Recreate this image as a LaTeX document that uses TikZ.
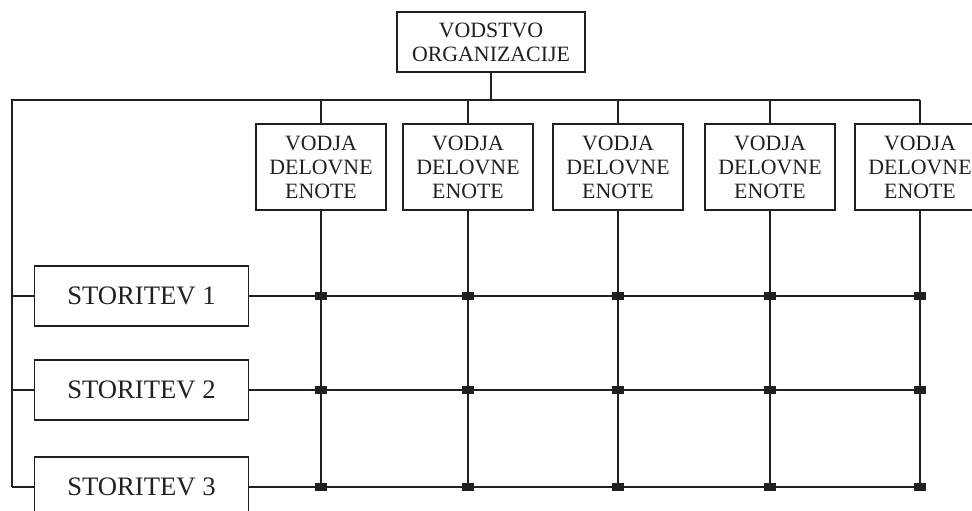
\documentclass[tikz,border=0pt]{standalone}
\usepackage{fontspec}
\setmainfont{Liberation Serif}
\usetikzlibrary{positioning}
\definecolor{lnblack}{HTML}{231F20}

\begin{document}
\begin{tikzpicture}[x=0.75pt,y=-0.75pt,line width=0.9pt,draw=lnblack,
  box/.style={rectangle,draw=lnblack,line width=0.9pt,align=center,inner sep=0pt,text=lnblack},
  lead/.style={box,font=\fontsize{16.4}{18}\selectfont,minimum width=141pt,minimum height=45pt},
  unit/.style={box,font=\fontsize{16.4}{18}\selectfont,minimum width=97.5pt,minimum height=64.5pt},
  task/.style={box,font=\fontsize{20}{22}\selectfont,minimum width=160pt,minimum height=45pt},
  sq/.style={rectangle,fill=lnblack,draw=none,inner sep=0pt,minimum width=9pt,minimum height=6pt}]
  \clip (0,0) rectangle (972,511);
  % vodstvo
  \node[lead] (org) at (491,42) {VODSTVO\\ORGANIZACIJE};
  \coordinate (busL) at (12,100);
  \coordinate (busR) at (920,100);
  % vodje delovnih enot
  \foreach \i/\x in {1/321,2/468,3/618,4/770,5/920}
    \node[unit] (v\i) at (\x,167) {VODJA\\DELOVNE\\ENOTE};
  % storitve
  \foreach \j/\y in {1/296,2/390,3/487}
    \node[task] (s\j) at (141.5,\y) {STORITEV \j};
  % linije
  \draw (org.south) -- (org.south |- busL);
  \draw (busR) -- (busL) -- (busL |- s3);
  \foreach \i in {1,...,5} {
    \draw (busL -| v\i) -- (v\i.north);
    \draw (v\i.south) -- (v\i |- s3);
  }
  \foreach \j in {1,2,3} {
    \draw (busL |- s\j) -- (s\j.west);
    \draw (s\j.east) -- (v5 |- s\j);
    \foreach \i in {1,...,5}
      \node[sq] (m\i\j) at (v\i |- s\j) {};
  }
\end{tikzpicture}
\end{document}
